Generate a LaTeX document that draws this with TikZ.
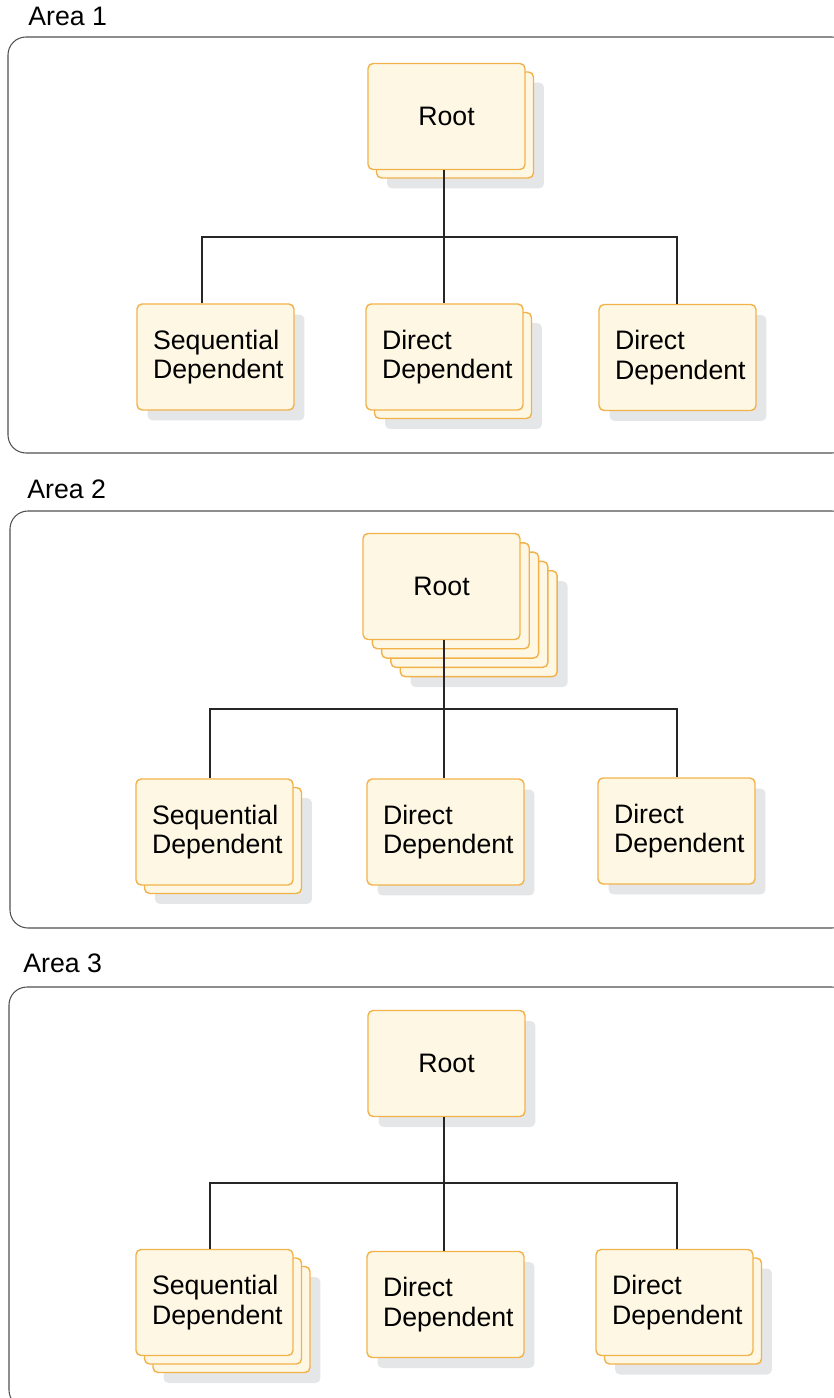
\documentclass[tikz,border=0pt]{standalone}
\usepackage{fontspec}
\setmainfont{Liberation Sans}
\usepackage{tikz}
\usepackage{xcolor}
\usetikzlibrary{positioning,calc}

\definecolor{cardfill}{HTML}{FEF7E4}
\definecolor{cardline}{HTML}{F2B24A}
\definecolor{shadegray}{HTML}{E5E6E8}
\definecolor{framegray}{HTML}{505050}

\begin{document}
\begin{tikzpicture}[
          x=0.02cm, y=-0.02cm,
          every node/.style={font=\fontsize{15.2}{16.8}\selectfont},
          area/.style={draw=framegray, line width=0.6pt, rounded corners=0.36cm},
          arealabel/.style={anchor=base west, inner sep=0pt},
          card/.style={draw=cardline, fill=cardfill, line width=0.8pt, rounded corners=0.1cm,
                       minimum width=3.14cm, minimum height=2.12cm, text width=2.5cm,
                       inner xsep=0.32cm, align=left},
          rootcard/.style={card, align=center},
          shade/.style={fill=shadegray, rounded corners=0.1cm, minimum width=3.14cm, minimum height=2.12cm},
          wire/.style={draw=black!85, line width=0.65pt}
      ]
        \useasboundingbox (0,0) rectangle (833,1398);

        % Area 1
        \node[arealabel] (lab1) at (28,26) {Area 1};
        \draw[area] (8,37) rectangle (850,453);
        \node[shade] (root1s) at (446.5+8.5+10.5,116.5+8.5+10.5) {};
        \foreach \k in {1} \node[card] (root1-\k) at (446.5+8.5*\k,116.5+8.5*\k) {};
        \node[rootcard] (root1) at (446.5,116.5) {Root};
        \node[shade] (seq1s) at (215.5+10.5,357+10.5) {};
        \node[card] (seq1) at (215.5,357) {Sequential\\Dependent};
        \node[shade] (dir1as) at (444.5+8.5+10.5,357+8.5+10.5) {};
        \foreach \k in {1} \node[card] (dir1a-\k) at (444.5+8.5*\k,357+8.5*\k) {};
        \node[card] (dir1a) at (444.5,357) {Direct\\Dependent};
        \node[shade] (dir1bs) at (677.5+10.5,357.5+10.5) {};
        \node[card] (dir1b) at (677.5,357.5) {Direct\\Dependent};
        \coordinate (bus1l) at (202,237);
        \coordinate (bus1r) at (677,237);
        \coordinate (bus1m) at (444,237);
        \draw[wire] (seq1.north -| bus1l) -- (bus1l) -- (bus1r) -- (bus1r |- dir1b.north);
        \draw[wire] (root1.south -| bus1m) -- (bus1m |- dir1a.north);

        % Area 2
        \node[arealabel] (lab2) at (27,498) {Area 2};
        \draw[area] (10,511) rectangle (850,928);
        \node[shade] (root2s) at (441.5+4*9.3+10.5,586.5+4*9.3+10.5) {};
        \foreach \k in {4,3,2,1} \node[card] (root2-\k) at (441.5+9.3*\k,586.5+9.3*\k) {};
        \node[rootcard] (root2) at (441.5,586.5) {Root};
        \node[shade] (seq2s) at (214.5+8.5+10.5,832+8.5+10.5) {};
        \foreach \k in {1} \node[card] (seq2-\k) at (214.5+8.5*\k,832+8.5*\k) {};
        \node[card] (seq2) at (214.5,832) {Sequential\\Dependent};
        \node[shade] (dir2as) at (445.5+10.5,832+10.5) {};
        \node[card] (dir2a) at (445.5,832) {Direct\\Dependent};
        \node[shade] (dir2bs) at (676.5+10.5,831+10.5) {};
        \node[card] (dir2b) at (676.5,831) {Direct\\Dependent};
        \coordinate (bus2l) at (210,709);
        \coordinate (bus2r) at (677,709);
        \coordinate (bus2m) at (444,709);
        \draw[wire] (seq2.north -| bus2l) -- (bus2l) -- (bus2r) -- (bus2r |- dir2b.north);
        \draw[wire] (root2.south -| bus2m) -- (bus2m |- dir2a.north);

        % Area 3
        \node[arealabel] (lab3) at (23,972) {Area 3};
        \draw[area] (9,987) rectangle (850,1408);
        \node[shade] (root3s) at (446.5+10.5,1063.5+10.5) {};
        \node[rootcard] (root3) at (446.5,1063.5) {Root};
        \node[shade] (seq3s) at (214.5+2*8.5+10.5,1302.5+2*8.5+10.5) {};
        \foreach \k in {2,1} \node[card] (seq3-\k) at (214.5+8.5*\k,1302.5+8.5*\k) {};
        \node[card] (seq3) at (214.5,1302.5) {Sequential\\Dependent};
        \node[shade] (dir3as) at (445.5+10.5,1304.5+10.5) {};
        \node[card] (dir3a) at (445.5,1304.5) {Direct\\Dependent};
        \node[shade] (dir3bs) at (674.5+8.5+10.5,1302.5+8.5+10.5) {};
        \foreach \k in {1} \node[card] (dir3b-\k) at (674.5+8.5*\k,1302.5+8.5*\k) {};
        \node[card] (dir3b) at (674.5,1302.5) {Direct\\Dependent};
        \coordinate (bus3l) at (210,1183);
        \coordinate (bus3r) at (677,1183);
        \coordinate (bus3m) at (444,1183);
        \draw[wire] (seq3.north -| bus3l) -- (bus3l) -- (bus3r) -- (bus3r |- dir3b.north);
        \draw[wire] (root3.south -| bus3m) -- (bus3m |- dir3a.north);
      \end{tikzpicture}
\end{document}
